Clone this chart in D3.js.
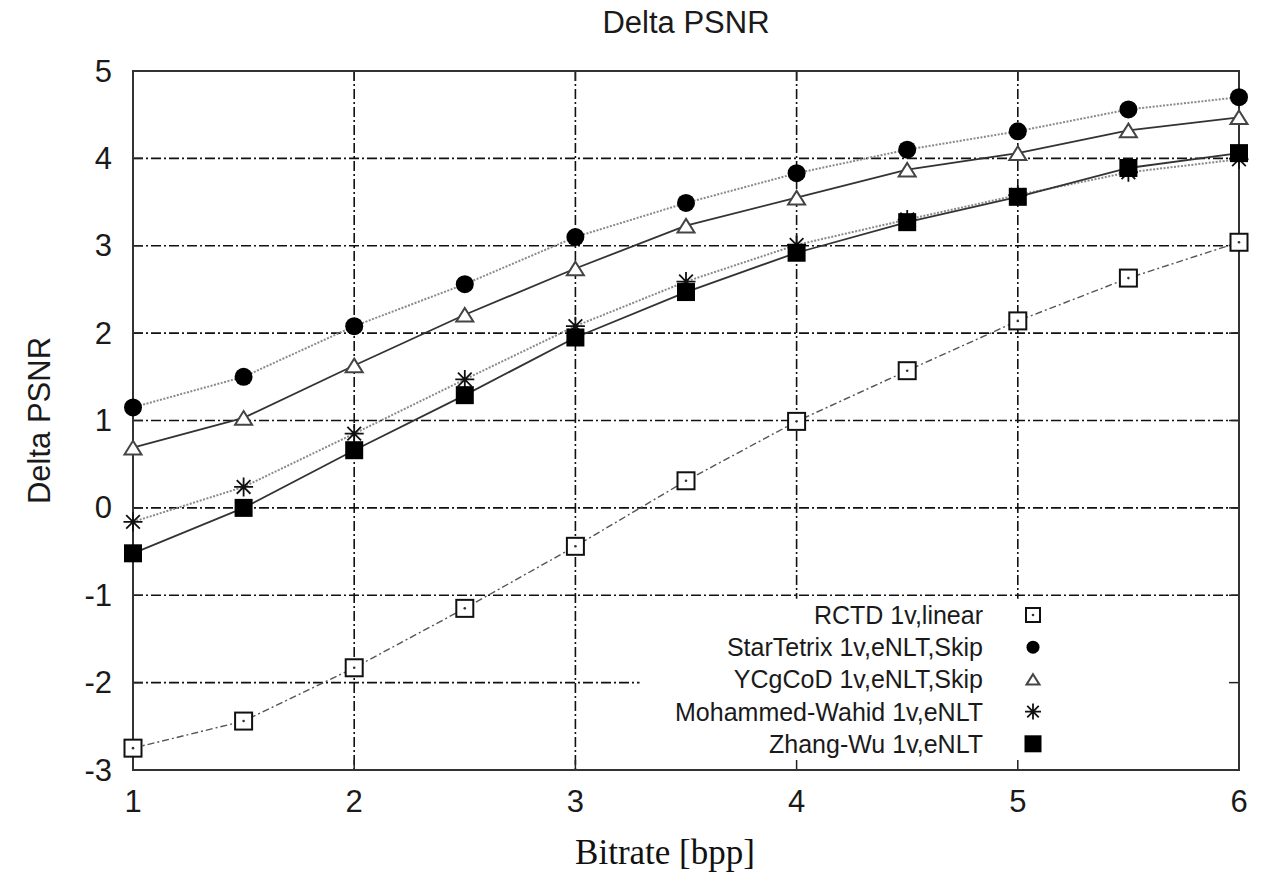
<!DOCTYPE html>
<html>
<head>
<meta charset="utf-8">
<script src="https://cdn.jsdelivr.net/npm/d3@7/dist/d3.min.js"></script>
<style>
  body { margin: 0; padding: 0; background: #fff; }
</style>
</head>
<body>
<div id="chart"></div>
<script>
// Data
const bitrate = [1, 1.5, 2, 2.5, 3, 3.5, 4, 4.5, 5, 5.5, 6];
const rctd = [-2.75, -2.44, -1.83, -1.15, -0.44, 0.31, 0.99, 1.57, 2.14, 2.63, 3.04];
const starTetrix = [1.15, 1.50, 2.08, 2.56, 3.10, 3.49, 3.83, 4.10, 4.31, 4.56, 4.70];
const ycgcod = [0.69, 1.03, 1.63, 2.21, 2.74, 3.23, 3.55, 3.87, 4.06, 4.32, 4.47];
const mohammedWahid = [-0.16, 0.24, 0.85, 1.47, 2.08, 2.59, 3.01, 3.30, 3.58, 3.84, 3.99];
const zhangWu = [-0.52, 0.00, 0.66, 1.29, 1.95, 2.47, 2.92, 3.27, 3.56, 3.89, 4.06];

const seriesNames = ["RCTD 1v,linear", "StarTetrix 1v,eNLT,Skip", "YCgCoD 1v,eNLT,Skip",
                     "Mohammed-Wahid 1v,eNLT", "Zhang-Wu 1v,eNLT"];
const xTicks = [1, 2, 3, 4, 5, 6];
const yTicks = [-3, -2, -1, 0, 1, 2, 3, 4, 5];

const width = 1271, height = 872;
const margin = {top: 71, right: 32, bottom: 102, left: 133};
const innerW = width - margin.left - margin.right;
const innerH = height - margin.top - margin.bottom;
const sans = "'Liberation Sans', Arial, sans-serif";

const svg = d3.select("#chart").append("svg")
    .attr("width", width)
    .attr("height", height);

const g = svg.append("g").attr("transform", `translate(${margin.left},${margin.top})`);

const x = d3.scaleLinear().domain([1, 6]).range([0, innerW]);
const y = d3.scaleLinear().domain([-3, 5]).range([innerH, 0]);

// grid (dash-dot)
const gridDash = "10,3,2,3";
g.selectAll(".hgrid").data(yTicks.slice(1, -1)).enter().append("line")
    .attr("x1", 0).attr("x2", innerW)
    .attr("y1", d => y(d)).attr("y2", d => y(d))
    .attr("stroke", "#111").attr("stroke-width", 1.6).attr("stroke-dasharray", gridDash);
g.selectAll(".vgrid").data(xTicks.slice(1, -1)).enter().append("line")
    .attr("y1", 0).attr("y2", innerH)
    .attr("x1", d => x(d)).attr("x2", d => x(d))
    .attr("stroke", "#111").attr("stroke-width", 1.6).attr("stroke-dasharray", gridDash);

// legend background blanks the grid behind it
const legendX = x(3.29), legendY = y(-1.04);
g.append("rect")
    .attr("x", legendX).attr("y", legendY)
    .attr("width", innerW - legendX).attr("height", innerH - legendY)
    .attr("fill", "#fff");

// inward ticks on all sides
const tickLen = 10;
xTicks.forEach(t => {
  g.append("line").attr("x1", x(t)).attr("x2", x(t)).attr("y1", innerH).attr("y2", innerH - tickLen)
    .attr("stroke", "#222").attr("stroke-width", 1.5);
  g.append("line").attr("x1", x(t)).attr("x2", x(t)).attr("y1", 0).attr("y2", tickLen)
    .attr("stroke", "#222").attr("stroke-width", 1.5);
});
yTicks.forEach(t => {
  g.append("line").attr("x1", 0).attr("x2", tickLen).attr("y1", y(t)).attr("y2", y(t))
    .attr("stroke", "#222").attr("stroke-width", 1.5);
  g.append("line").attr("x1", innerW).attr("x2", innerW - tickLen).attr("y1", y(t)).attr("y2", y(t))
    .attr("stroke", "#222").attr("stroke-width", 1.5);
});

// frame
g.append("rect")
    .attr("width", innerW).attr("height", innerH)
    .attr("fill", "none").attr("stroke", "#333").attr("stroke-width", 2);

// tick labels
g.selectAll(".xlab").data(xTicks).enter().append("text")
    .attr("x", d => x(d)).attr("y", innerH + 31)
    .attr("text-anchor", "middle").attr("dominant-baseline", "central")
    .attr("font-family", sans).attr("font-size", 31).attr("fill", "#1a1a1a")
    .text(d => d);
g.selectAll(".ylab").data(yTicks).enter().append("text")
    .attr("x", -21).attr("y", d => y(d))
    .attr("text-anchor", "end").attr("dominant-baseline", "central")
    .attr("font-family", sans).attr("font-size", 31).attr("fill", "#1a1a1a")
    .text(d => d);

// title and axis labels
svg.append("text")
    .attr("x", margin.left + innerW / 2).attr("y", 33)
    .attr("text-anchor", "middle")
    .attr("font-family", sans).attr("font-size", 31).attr("fill", "#1a1a1a")
    .text("Delta PSNR");
svg.append("text")
    .attr("transform", `translate(50,${margin.top + innerH / 2}) rotate(-90)`)
    .attr("text-anchor", "middle")
    .attr("font-family", sans).attr("font-size", 31).attr("fill", "#1a1a1a")
    .text("Delta PSNR");
svg.append("text")
    .attr("x", 665).attr("y", 864)
    .attr("text-anchor", "middle")
    .attr("font-family", "'Liberation Serif', 'Times New Roman', serif").attr("font-size", 35).attr("fill", "#111")
    .text("Bitrate [bpp]");

// markers
function drawMarker(sel, type, s) {
  if (type === "openSquare") {
    sel.append("rect").attr("x", -s / 2).attr("y", -s / 2).attr("width", s).attr("height", s)
      .attr("fill", "#fff").attr("stroke", "#111").attr("stroke-width", 2);
    sel.append("circle").attr("r", 1.3).attr("fill", "#333");
  } else if (type === "circle") {
    sel.append("circle").attr("r", s / 2).attr("fill", "#000");
  } else if (type === "triangle") {
    const h = s * 0.8;
    sel.append("path")
      .attr("d", `M0,${-h / 2}L${s / 2},${h / 2}L${-s / 2},${h / 2}Z`)
      .attr("fill", "#fff").attr("stroke", "#444").attr("stroke-width", 2);
  } else if (type === "star") {
    const r = s / 2, d = r * 0.72;
    sel.append("path")
      .attr("d", `M0,${-r}V${r}M${-r},0H${r}M${-d},${-d}L${d},${d}M${-d},${d}L${d},${-d}`)
      .attr("stroke", "#111").attr("stroke-width", 1.8).attr("fill", "none");
  } else if (type === "filledSquare") {
    sel.append("rect").attr("x", -s / 2).attr("y", -s / 2).attr("width", s).attr("height", s)
      .attr("fill", "#000");
  }
}

const series = [
  {name: seriesNames[0], values: rctd, marker: "openSquare", size: 17, legendSize: 14,
   stroke: "#555", width: 1.4, dash: "7,3,2,3"},
  {name: seriesNames[1], values: starTetrix, marker: "circle", size: 18, legendSize: 13,
   stroke: "#8a8a8a", width: 2, dash: "2,1.5"},
  {name: seriesNames[2], values: ycgcod, marker: "triangle", size: 17, legendSize: 13,
   stroke: "#333", width: 1.8, dash: null},
  {name: seriesNames[3], values: mohammedWahid, marker: "star", size: 19, legendSize: 16,
   stroke: "#8a8a8a", width: 2, dash: "2,1.5"},
  {name: seriesNames[4], values: zhangWu, marker: "filledSquare", size: 18, legendSize: 17,
   stroke: "#333", width: 1.8, dash: null}
];

const line = d3.line().x(d => x(d[0])).y(d => y(d[1]));

series.forEach(s => {
  const pts = bitrate.map((b, i) => [b, s.values[i]]);
  g.append("path")
    .datum(pts)
    .attr("d", line)
    .attr("fill", "none")
    .attr("stroke", s.stroke)
    .attr("stroke-width", s.width)
    .attr("stroke-dasharray", s.dash);
  const m = g.selectAll(null).data(pts).enter().append("g")
    .attr("transform", d => `translate(${x(d[0])},${y(d[1])})`);
  m.each(function() { drawMarker(d3.select(this), s.marker, s.size); });
});

// legend
const legend = g.append("g");
series.forEach((s, i) => {
  const ly = 615 - margin.top + i * 32.2;
  legend.append("text")
    .attr("x", 983 - margin.left).attr("y", ly)
    .attr("text-anchor", "end").attr("dominant-baseline", "central")
    .attr("font-family", sans).attr("font-size", 25).attr("fill", "#1a1a1a")
    .text(s.name);
  const lm = legend.append("g").attr("transform", `translate(${1033 - margin.left},${ly})`);
  drawMarker(lm, s.marker, s.legendSize);
});
</script>
</body>
</html>
